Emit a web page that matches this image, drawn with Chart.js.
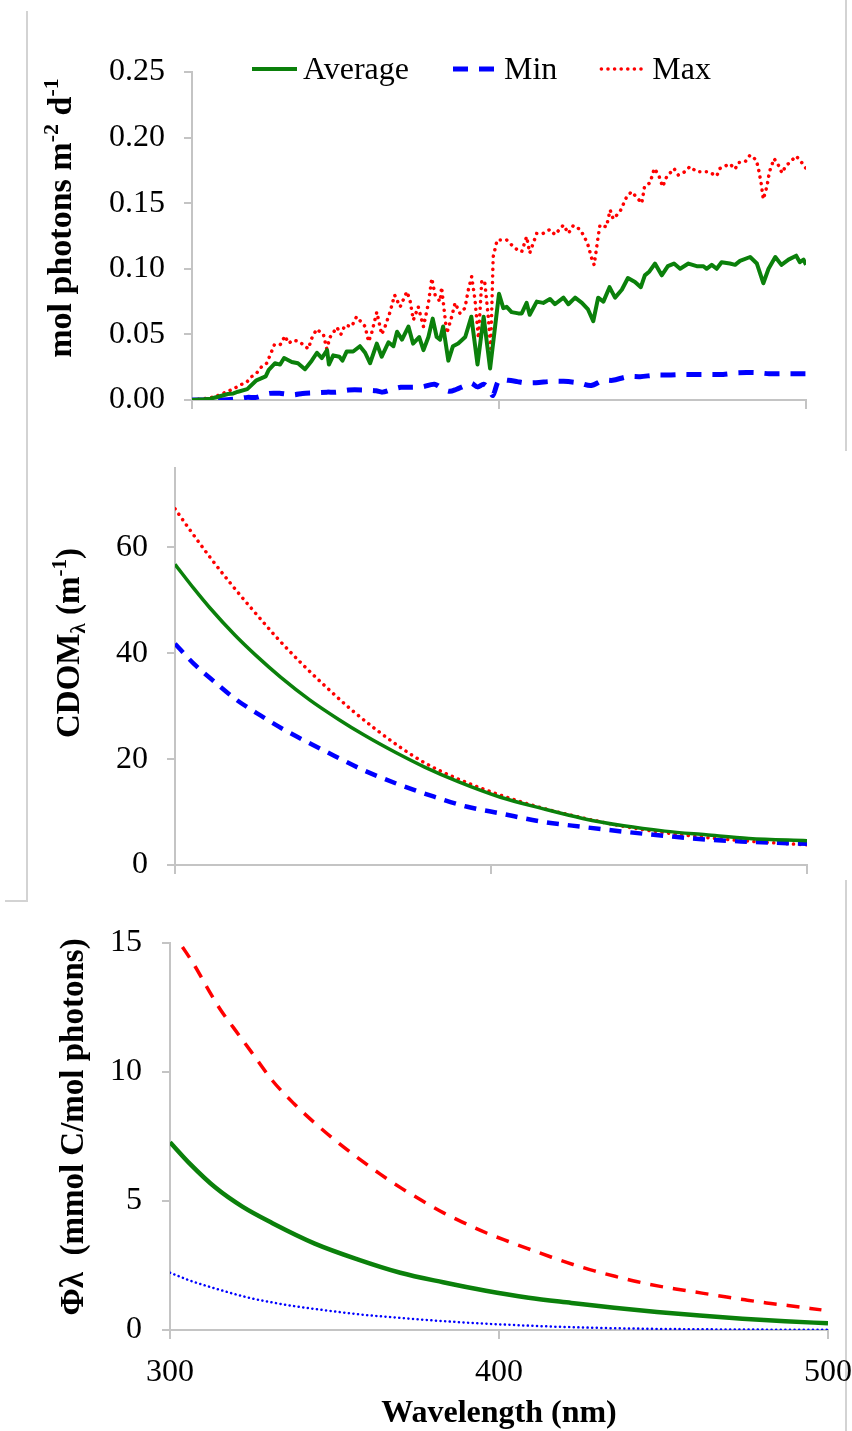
<!DOCTYPE html>
<html>
<head>
<meta charset="utf-8">
<title>Photon dose, CDOM and quantum yield spectra</title>
<script src="https://cdn.jsdelivr.net/npm/chart.js@4.4.1/dist/chart.umd.min.js"></script>
<style>
  body { margin: 0; background: #fff; }
  #page { position: relative; width: 852px; height: 1431px; overflow: hidden; background: #fff; }
  #page canvas { position: absolute; left: 0; }
  .frame { position: absolute; background: #d3d3d3; }
</style>
</head>
<body>
<div id="page">
  <div class="frame" style="left:26px;top:11px;width:2px;height:891px"></div>
  <div class="frame" style="left:5px;top:900px;width:23px;height:2px"></div>
  <div class="frame" style="left:845px;top:0;width:2px;height:451px"></div>
  <div class="frame" style="left:845px;top:880px;width:2px;height:551px"></div>
  <canvas id="dose-chart" width="852" height="440" style="top:0"></canvas>
  <canvas id="cdom-chart" width="852" height="440" style="top:440px"></canvas>
  <canvas id="phi-chart" width="852" height="551" style="top:880px"></canvas>
</div>
<script>
// top panel: daily photon dose (mol photons m-2 d-1)
const doseAvgWl = [300, 304, 306, 308.5, 311.7, 313.5, 315, 318, 321, 324, 325, 327, 328.7, 330, 332.5, 334.5,
  336.8, 339, 340.7, 342.3, 344, 344.6, 346, 348, 349, 350.4, 352.5, 354.7, 356.4, 358, 360.2, 361.8, 364,
  365.6, 366.8, 368.4, 370.5, 372, 374, 375.4, 377, 378.4, 379.7, 380.8, 381.8, 383.5, 385, 386.7, 389, 391,
  393, 395, 397.1, 400, 401.4, 402.5, 404.1, 406.3, 407.4, 409, 410, 412.3, 414.4, 416.6, 418.2, 421, 422.6,
  424.8, 427, 429, 430.7, 432.3, 434, 436, 437.8, 440, 442, 444.3, 446.2, 447.5, 449, 450.8, 453, 455, 457,
  459, 461.7, 464.4, 466.6, 467.6, 469.3, 470.9, 472.5, 475.2, 476.9, 478.5, 481.8, 484, 486.1, 487.8, 490,
  492, 494.3, 496.8, 498, 499.2, 500];
const doseAvg = [0, 0.0005, 0.001, 0.0025, 0.0046, 0.005, 0.0063, 0.0083, 0.015, 0.018, 0.023, 0.028, 0.027,
  0.032, 0.029, 0.028, 0.0235, 0.030, 0.036, 0.032, 0.038, 0.027, 0.034, 0.033, 0.030, 0.037, 0.037, 0.041,
  0.036, 0.028, 0.043, 0.033, 0.044, 0.041, 0.052, 0.046, 0.056, 0.043, 0.048, 0.038, 0.048, 0.062, 0.048,
  0.046, 0.056, 0.030, 0.041, 0.043, 0.048, 0.0635, 0.027, 0.0635, 0.024, 0.081, 0.070, 0.071, 0.067, 0.066,
  0.066, 0.074, 0.065, 0.075, 0.074, 0.077, 0.073, 0.078, 0.073, 0.078, 0.074, 0.069, 0.060, 0.078, 0.075,
  0.086, 0.078, 0.084, 0.093, 0.090, 0.086, 0.095, 0.098, 0.104, 0.095, 0.102, 0.104, 0.100, 0.104, 0.102,
  0.102, 0.100, 0.103, 0.100, 0.105, 0.104, 0.103, 0.106, 0.109, 0.104, 0.089, 0.100, 0.109, 0.103, 0.107,
  0.110, 0.105, 0.107, 0.103];

const doseMinWl = [300, 305, 310, 315, 318, 321, 325, 329, 333, 336, 340, 344, 347, 351, 356, 360, 362, 365,
  368, 371, 375, 379, 382, 384, 386, 389, 391, 393, 395, 396.5, 398, 400, 403, 406, 408, 412, 417, 421, 426,
  430, 434, 437, 442, 446, 451, 455, 460, 464, 469, 473, 478, 484, 488, 492, 496, 500];
const doseMin = [0, 0, 0, 0.001, 0.002, 0.002, 0.005, 0.005, 0.004, 0.005, 0.0055, 0.006, 0.006, 0.0076,
  0.0076, 0.007, 0.006, 0.008, 0.0097, 0.0097, 0.010, 0.012, 0.008, 0.0066, 0.008, 0.011, 0.0127, 0.010,
  0.012, 0.009, 0.0035, 0.015, 0.015, 0.014, 0.0132, 0.0132, 0.0142, 0.0142, 0.013, 0.011, 0.015, 0.015,
  0.0178, 0.0178, 0.019, 0.019, 0.0195, 0.0195, 0.0195, 0.0195, 0.0208, 0.0208, 0.020, 0.020, 0.020, 0.020];

const doseMaxWl = [300, 304, 306.4, 309, 311.3, 313.5, 315.6, 317.8, 319.4, 321, 322.7, 324.3, 325.7, 326.8,
  328.7, 330.3, 331.4, 333, 335, 336.8, 337.9, 339, 340.6, 342.8, 343.9, 345, 347.2, 348.5, 349.8, 352,
  353.6, 356.4, 357.5, 358.5, 360.2, 361.8, 362.9, 364.5, 366, 367.8, 370, 371, 372.1, 373.7, 375.4, 377,
  378.1, 379.2, 380.8, 381.3, 383, 384.6, 385.7, 387.3, 388.9, 390, 391.1, 392.2, 393.3, 394.4, 395.4, 396.5,
  397.3, 398.1, 399.4, 400.3, 402.5, 405.2, 407.4, 409, 410, 412.3, 414.4, 416.6, 418.2, 421, 422.6, 424.2,
  426.4, 427.8, 429, 430.2, 431, 432.3, 432.9, 435, 436.2, 437.2, 439.4, 441.6, 443.2, 445.4, 446.5, 447.4,
  449.2, 450.6, 452, 453.3, 454.6, 457, 458.4, 460.6, 462.2, 464.4, 468.2, 470.9, 472, 475.2, 476.9, 478,
  480.2, 481.8, 483.8, 484.5, 485.4, 486.1, 487.3, 488.1, 489.6, 491, 492.2, 493.3, 494.9, 496.8, 498.4, 500];
const doseMax = [0, 0.001, 0.002, 0.0038, 0.0063, 0.0084, 0.0114, 0.0135, 0.0178, 0.0203, 0.0254, 0.028,
  0.0356, 0.042, 0.042, 0.0488, 0.0432, 0.0457, 0.0445, 0.041, 0.039, 0.047, 0.054, 0.050, 0.039, 0.048,
  0.0554, 0.050, 0.057, 0.056, 0.0635, 0.056, 0.0445, 0.0508, 0.067, 0.050, 0.056, 0.067, 0.080, 0.071,
  0.0826, 0.076, 0.061, 0.071, 0.0559, 0.0737, 0.0927, 0.080, 0.075, 0.086, 0.0508, 0.0635, 0.074, 0.066,
  0.070, 0.0838, 0.094, 0.076, 0.047, 0.0915, 0.089, 0.0635, 0.039, 0.109, 0.122, 0.122, 0.122, 0.1156,
  0.113, 0.1245, 0.112, 0.127, 0.127, 0.130, 0.126, 0.1334, 0.127, 0.133, 0.130, 0.1245, 0.118, 0.108, 0.103,
  0.1245, 0.1334, 0.132, 0.1448, 0.138, 0.1435, 0.155, 0.1588, 0.153, 0.150, 0.1626, 0.1656, 0.1765, 0.1715,
  0.1626, 0.170, 0.1765, 0.1715, 0.174, 0.178, 0.174, 0.174, 0.1707, 0.1765, 0.180, 0.176, 0.181, 0.1816,
  0.1867, 0.183, 0.1765, 0.165, 0.153, 0.163, 0.174, 0.184, 0.179, 0.173, 0.178, 0.1816, 0.186, 0.1816, 0.1765];

const doseTicks = [0, 0.05, 0.10, 0.15, 0.20, 0.25];

// middle panel: CDOM absorption (m-1)
const cdomAvgWl = [300, 306, 311, 319, 325.6, 333.4, 342.6, 351.8, 359.7, 370, 379, 389.8, 403, 416, 429, 442,
  455, 468, 481.6, 500];
const cdomAvg = [56.8, 52.2, 48.6, 43.4, 39.6, 35.5, 31.2, 27.5, 24.6, 21.2, 18.5, 15.7, 12.8, 10.7, 8.8, 7.4,
  6.4, 5.7, 5.0, 4.6];
const cdomMinWl = [300, 306, 312.5, 319, 326.9, 334.7, 342.6, 350.5, 359.7, 370, 382, 392.5, 403, 416, 429, 442,
  455, 468, 481.6, 500];
const cdomMin = [41.8, 38, 34.6, 31.4, 28.3, 25.5, 23, 20.6, 17.9, 15.4, 12.9, 11, 9.75, 8.2, 7.2, 6.3, 5.5,
  4.8, 4.4, 4.0];
const cdomMaxWl = [300, 304.6, 311, 317.7, 324.3, 332, 340, 347.9, 355.7, 363.6, 371.4, 379.3, 389.8, 403, 416,
  429, 442, 455, 468, 481.6, 500];
const cdomMax = [67.3, 63.4, 58.2, 53.1, 48.4, 43.1, 38.1, 33.6, 29.4, 25.6, 22.2, 19.2, 16.2, 13.2, 10.8, 8.9,
  7.3, 6.1, 5.2, 4.5, 3.8];
const cdomTicks = [0, 20, 40, 60];

// bottom panel: apparent quantum yield (mmol C/mol photons)
const phiAvgWl = [300, 306, 314, 322, 331, 344, 357, 370, 383, 396, 409, 422, 435, 448, 461, 474, 487, 500];
const phiAvg = [7.28, 6.45, 5.5, 4.78, 4.15, 3.35, 2.74, 2.22, 1.85, 1.52, 1.25, 1.05, 0.86, 0.7, 0.56, 0.44,
  0.34, 0.26];
const phiMaxWl = [300, 303, 307.6, 311.6, 315.4, 319.4, 324.6, 331.1, 337.7, 344.2, 350.7, 357.2, 363.8, 370.3,
  376.8, 383.3, 389.9, 396.4, 402.9, 409.5, 416, 422.5, 429, 435.6, 442.1, 448.6, 455.2, 461.7, 468.2, 474.8,
  481.3, 487.8, 498];
const phiMax = [15.6, 15.0, 14.1, 13.2, 12.4, 11.7, 10.8, 9.67, 8.77, 8.0, 7.3, 6.66, 6.05, 5.5, 5.0, 4.53,
  4.12, 3.75, 3.43, 3.12, 2.82, 2.54, 2.29, 2.07, 1.87, 1.7, 1.56, 1.43, 1.3, 1.17, 1.05, 0.95, 0.78];
const phiMinWl = [300, 306, 314, 324, 331, 338, 348, 358, 365, 381, 400, 415, 431, 447, 464, 480, 500];
const phiMin = [2.22, 1.92, 1.6, 1.25, 1.07, 0.92, 0.75, 0.6, 0.52, 0.36, 0.22, 0.14, 0.08, 0.045, 0.025,
  0.015, 0.01];
const phiTicks = [0, 5, 10, 15];

const wlTicks = [300, 400, 500];

const GREEN = "#0b800b";
const BLUE = "#0000ff";
const RED = "#ff0000";
const AXIS_GREY = "#c4c4c4";
const SERIF = "'Liberation Serif', 'Times New Roman', serif";

Chart.defaults.font.family = SERIF;
Chart.defaults.color = "#000";

function toPoints(wl, vals) {
  return wl.map((x, i) => ({ x: x, y: vals[i] }));
}

// line sample + name, drawn across the top of the dose panel
const seriesKey = {
  id: "seriesKey",
  afterDraw(chart, args, opts) {
    const ctx = chart.ctx;
    ctx.save();
    ctx.font = opts.font;
    ctx.textBaseline = "alphabetic";
    let x = opts.x;
    chart.data.datasets.forEach((ds) => {
      ctx.beginPath();
      ctx.strokeStyle = ds.borderColor;
      ctx.lineWidth = ds.borderWidth;
      ctx.lineCap = ds.borderCapStyle || "butt";
      ctx.setLineDash(ds.borderDash || []);
      ctx.moveTo(x, opts.y);
      ctx.lineTo(x + opts.sample, opts.y);
      ctx.stroke();
      ctx.setLineDash([]);
      ctx.fillStyle = "#000";
      const tx = x + opts.sample + opts.gap;
      ctx.fillText(ds.label, tx, opts.baseline);
      x = tx + ctx.measureText(ds.label).width + opts.spacing;
    });
    ctx.restore();
  },
};

// rotated y title with super/subscripts
const sideTitle = {
  id: "sideTitle",
  afterDraw(chart, args, opts) {
    const ctx = chart.ctx;
    const size = opts.size;
    const small = Math.round(size * 0.65);
    ctx.save();
    ctx.translate(opts.x, opts.y);
    ctx.rotate(-Math.PI / 2);
    ctx.fillStyle = "#000";
    ctx.textBaseline = "alphabetic";
    const parts = opts.parts.map((p) => {
      const s = p.sup || p.sub ? small : size;
      ctx.font = "bold " + s + "px " + SERIF;
      return { text: p.text, sup: p.sup, sub: p.sub, font: ctx.font, w: ctx.measureText(p.text).width };
    });
    const total = parts.reduce((sum, p) => sum + p.w, 0);
    let cx = -total / 2;
    const base = size * 0.33;
    parts.forEach((p) => {
      ctx.font = p.font;
      let dy = base;
      if (p.sup) dy -= size * 0.38;
      if (p.sub) dy += size * 0.18;
      ctx.fillText(p.text, cx, dy);
      cx += p.w;
    });
    ctx.restore();
  },
};

function makeChart(canvasId, box, datasets, yCfg, xCfg, extraPlugins, pluginOpts) {
  const canvas = document.getElementById(canvasId);
  return new Chart(canvas.getContext("2d"), {
    type: "line",
    data: { datasets: datasets },
    options: {
      responsive: false,
      animation: false,
      devicePixelRatio: 1,
      layout: { padding: { top: box.top, right: canvas.width - box.right, bottom: 0, left: 0 } },
      elements: { point: { radius: 0 } },
      plugins: Object.assign({ legend: { display: false }, tooltip: { enabled: false } }, pluginOpts),
      scales: {
        x: {
          type: "linear",
          min: 300,
          max: 500,
          afterBuildTicks: (s) => { s.ticks = wlTicks.map((v) => ({ value: v })); },
          afterFit: (s) => { s.height = canvas.height - box.bottom; s.paddingLeft = 0; s.paddingRight = 0; },
          grid: { drawOnChartArea: false, drawTicks: true, tickLength: 9, color: AXIS_GREY, lineWidth: 2 },
          border: { color: AXIS_GREY, width: 2 },
          ticks: Object.assign({ display: false, maxRotation: 0, font: { size: 32 } }, xCfg.ticks),
          title: xCfg.title || { display: false },
        },
        y: {
          min: 0,
          max: yCfg.max,
          afterBuildTicks: (s) => { s.ticks = yCfg.ticks.map((v) => ({ value: v })); },
          afterFit: (s) => { s.width = box.left; s.paddingTop = 0; s.paddingBottom = 0; },
          grid: { drawOnChartArea: false, drawTicks: true, tickLength: 8, color: AXIS_GREY, lineWidth: 2 },
          border: { color: AXIS_GREY, width: 2 },
          ticks: { padding: yCfg.pad, font: { size: 32 }, callback: yCfg.fmt },
        },
      },
    },
    plugins: extraPlugins,
  });
}

document.addEventListener("DOMContentLoaded", function () {

  makeChart("dose-chart", { left: 192, right: 806, top: 72, bottom: 400 }, [
    { label: "Average", data: toPoints(doseAvgWl, doseAvg), borderColor: GREEN, borderWidth: 4,
      borderJoinStyle: "round", tension: 0 },
    { label: "Min", data: toPoints(doseMinWl, doseMin), borderColor: BLUE, borderWidth: 5,
      borderDash: [15, 11], tension: 0.3 },
    { label: "Max", data: toPoints(doseMaxWl, doseMax), borderColor: RED, borderWidth: 3.5,
      borderDash: [0.1, 6.5], borderCapStyle: "round", tension: 0 },
  ], { max: 0.25, ticks: doseTicks, pad: 19, fmt: (v) => v.toFixed(2) }, {},
  [seriesKey, sideTitle], {
    seriesKey: { x: 252, y: 69, baseline: 79, sample: 45, gap: 6, spacing: 44, font: "32px " + SERIF },
    sideTitle: { x: 60, y: 218, size: 34, parts: [
      { text: "mol photons m" }, { text: "-2", sup: true }, { text: " d" }, { text: "-1", sup: true }] },
  });

  makeChart("cdom-chart", { left: 175, right: 807, top: 28, bottom: 425 }, [
    { label: "Average", data: toPoints(cdomAvgWl, cdomAvg), borderColor: GREEN, borderWidth: 3.5,
      cubicInterpolationMode: "monotone" },
    { label: "Min", data: toPoints(cdomMinWl, cdomMin), borderColor: BLUE, borderWidth: 4.5,
      borderDash: [12, 9], cubicInterpolationMode: "monotone" },
    { label: "Max", data: toPoints(cdomMaxWl, cdomMax), borderColor: RED, borderWidth: 3.5,
      borderDash: [0.1, 6.5], borderCapStyle: "round", cubicInterpolationMode: "monotone" },
  ], { max: 75, ticks: cdomTicks, pad: 19, fmt: (v) => String(v) }, {},
  [sideTitle], {
    sideTitle: { x: 68, y: 203, size: 33, parts: [
      { text: "CDOM" }, { text: "λ", sub: true }, { text: " (m" }, { text: "-1", sup: true }, { text: ")" }] },
  });

  makeChart("phi-chart", { left: 170, right: 828, top: 63, bottom: 450 }, [
    { label: "Average", data: toPoints(phiAvgWl, phiAvg), borderColor: GREEN, borderWidth: 4.5,
      cubicInterpolationMode: "monotone" },
    { label: "Max", data: toPoints(phiMaxWl, phiMax), borderColor: RED, borderWidth: 3.5,
      borderDash: [13, 10], cubicInterpolationMode: "monotone" },
    { label: "Min", data: toPoints(phiMinWl, phiMin), borderColor: BLUE, borderWidth: 2.5,
      borderDash: [0.1, 4.5], borderCapStyle: "round", cubicInterpolationMode: "monotone" },
  ], { max: 15, ticks: phiTicks, pad: 20, fmt: (v) => String(v) }, {
    ticks: { display: true, padding: 14 },
    title: { display: true, text: "Wavelength (nm)", padding: { top: 0, bottom: 0 },
      font: { size: 32, weight: "bold", lineHeight: 1.1 } },
  }, [sideTitle], {
    sideTitle: { x: 72, y: 247, size: 33, parts: [{ text: "Φλ  (mmol C/mol photons)" }] },
  });
});
</script>
</body>
</html>
